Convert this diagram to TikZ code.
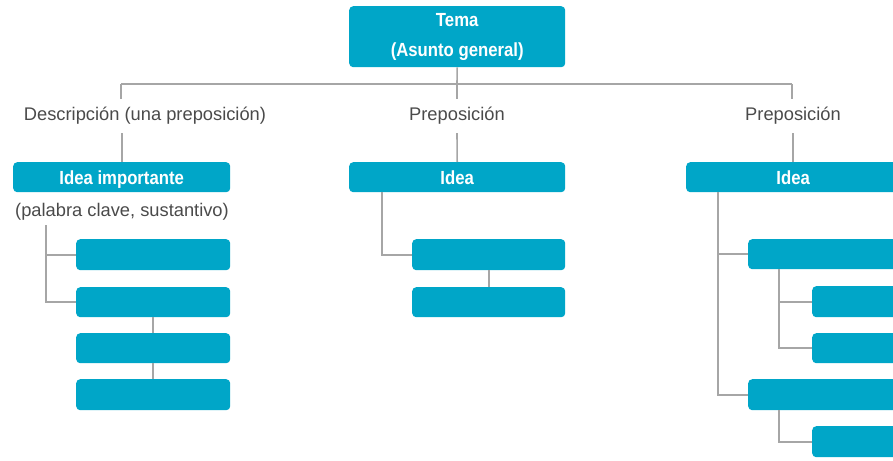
\documentclass[tikz,border=0pt]{standalone}
\usepackage{fontspec}
\setmainfont{Liberation Sans}
\newfontfamily\boxfont{Liberation Sans}[FakeStretch=0.88]
\definecolor{boxc}{HTML}{00A6C8}
\definecolor{linec}{HTML}{A6A6A6}
\definecolor{labc}{HTML}{4A4A4A}
\begin{document}
\begin{tikzpicture}[x=1pt,y=-1pt,
  bx/.style={fill=boxc,rounded corners=4pt,anchor=north west,inner sep=0pt,
    text=white,font=\boxfont\bfseries\fontsize{19}{30}\selectfont,align=center},
  one/.style={text height=13.6pt,text depth=0pt},
  lab/.style={text=labc,font=\fontsize{18.3}{22}\selectfont,inner sep=0pt,minimum height=34pt},
  conn/.style={draw=linec,line width=1.6pt}]
\useasboundingbox (0,0) rectangle (893,460);
\clip (0,0) rectangle (893,460);
% top
\node[bx,minimum width=216pt,minimum height=61pt] (tema) at (349,6) {Tema\\(Asunto general)};
\coordinate (h1) at (121,84);
\coordinate (h2) at (457,84);
\coordinate (h3) at (792,84);
\draw[conn] (tema.south) -- (h2);
\draw[conn] (h1) -- (h3);
% labels
\node[lab] (l1) at (145,116) {Descripción (una preposición)};
\node[lab] (l2) at (457,116) {Preposición};
\node[lab] (l3) at (793,116) {Preposición};
% idea boxes
\node[bx,one,minimum width=217pt,minimum height=30pt] (i1) at (13,162) {Idea importante};
\node[bx,one,minimum width=216pt,minimum height=30pt] (i2) at (349,162) {Idea};
\node[bx,one,minimum width=214pt,minimum height=30pt] (i3) at (686,162) {Idea};
\draw[conn] (h1) -- (h1|-l1.north);
\draw[conn] (h2) -- (h2|-l2.north);
\draw[conn] (h3) -- (h3|-l3.north);
\draw[conn] (i1.north|-l1.south) -- (i1.north);
\draw[conn] (l2.south) -- (i2.north);
\draw[conn] (i3.north|-l3.south) -- (i3.north);
\node[lab] (pc) at (122,212) {(palabra clave, sustantivo)};
% left column
\node[bx,minimum width=154pt,minimum height=31pt] (a1) at (76,239) {};
\node[bx,minimum width=154pt,minimum height=30pt] (a2) at (76,287) {};
\node[bx,minimum width=154pt,minimum height=30pt] (a3) at (76,333) {};
\node[bx,minimum width=154pt,minimum height=31pt] (a4) at (76,379) {};
\coordinate (c1) at (46,225);
\draw[conn] (c1) -- (c1|-a2.west) -- (a2.west);
\draw[conn] (c1|-a1.west) -- (a1.west);
\draw[conn] (a2.south) -- (a3.north);
\draw[conn] (a3.south) -- (a4.north);
% middle column
\node[bx,minimum width=153pt,minimum height=31pt] (m1) at (412,239) {};
\node[bx,minimum width=153pt,minimum height=30pt] (m2) at (412,287) {};
\coordinate (c2) at (382,192);
\draw[conn] (c2) -- (c2|-m1.west) -- (m1.west);
\draw[conn] (m1.south) -- (m2.north);
% right column
\node[bx,minimum width=200pt,minimum height=30pt] (r1) at (748,239) {};
\node[bx,minimum width=200pt,minimum height=31pt] (r2) at (748,379) {};
\node[bx,minimum width=120pt,minimum height=31pt] (s1) at (812,286) {};
\node[bx,minimum width=120pt,minimum height=30pt] (s2) at (812,333) {};
\node[bx,minimum width=120pt,minimum height=31pt] (s3) at (812,426) {};
\coordinate (c3) at (718,192);
\coordinate (c4) at (779,269);
\coordinate (c5) at (779,410);
\draw[conn] (c3) -- (c3|-r2.west) -- (r2.west);
\draw[conn] (c3|-r1.west) -- (r1.west);
\draw[conn] (c4) -- (c4|-s2.west) -- (s2.west);
\draw[conn] (c4|-s1.west) -- (s1.west);
\draw[conn] (c5) -- (c5|-s3.west) -- (s3.west);
\end{tikzpicture}
\end{document}
